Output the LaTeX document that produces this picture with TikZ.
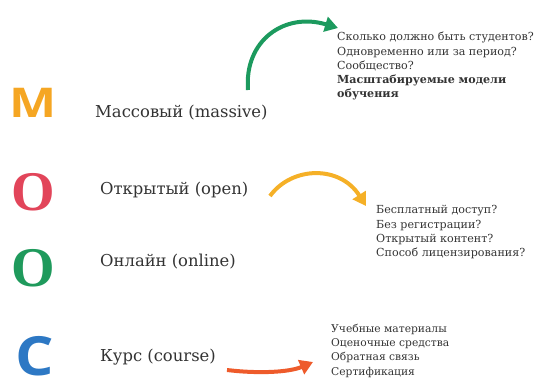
\documentclass[tikz,border=0pt]{standalone}
\usepackage{fontspec}
\setmainfont{DejaVu Serif}
\newfontfamily\lettersans{Open Sans}
\newfontfamily\letterserif{Liberation Serif}
\usetikzlibrary{arrows.meta}
\definecolor{mOrange}{HTML}{F5A623}
\definecolor{oRed}{HTML}{E2455A}
\definecolor{oGreen}{HTML}{1F9A5C}
\definecolor{cBlue}{HTML}{2D78C4}
\definecolor{arGreen}{HTML}{1C9A5E}
\definecolor{arYellow}{HTML}{F5B027}
\definecolor{arRed}{HTML}{EE5B2B}
\definecolor{txt}{HTML}{333333}
\begin{document}
\begin{tikzpicture}[x=1pt,y=-1pt,
  bigletter/.style={inner sep=0pt},
  term/.style={inner sep=0pt, anchor=west, text=txt, font=\fontsize{16.4}{19}\selectfont},
  notes/.style={inner sep=0pt, anchor=north west, align=left, text=txt,
    font=\fontsize{11.1}{14.2}\selectfont},
  bent/.style={line width=4pt, -{Triangle[length=13pt,width=15pt]}}]
\useasboundingbox (0,0) rectangle (539,383);
% the four initials
\node[bigletter, text=mOrange, font=\lettersans\fontsize{41}{41}\selectfont\bfseries] (M) at (33,103) {\scalebox{1.22}[1]{M}};
\node[bigletter, text=oRed, font=\letterserif\fontsize{56}{56}\selectfont\bfseries] (O1) at (33,192) {O};
\node[bigletter, text=oGreen, font=\letterserif\fontsize{56}{56}\selectfont\bfseries] (O2) at (33,268) {O};
\node[bigletter, text=cBlue, font=\lettersans\fontsize{54}{54}\selectfont\bfseries] (C) at (35,356) {\scalebox{1.12}[1]{C}};
% the words
\node[term] (mass) at (95,113) {Массовый (massive)};
\node[term] (open) at (100,190) {Открытый (open)};
\node[term] (online) at (100,262) {Онлайн (online)};
\node[term] (course) at (100,357) {Курс (course)};
% notes
\node[notes] (n1) at (337,32) {Сколько должно быть студентов?\\
Одновременно или за период?\\
Сообщество?\\
\textbf{Масштабируемые модели}\\
\textbf{обучения}};
\node[notes] (n2) at (376,205.5) {Бесплатный доступ?\\
Без регистрации?\\
Открытый контент?\\
Способ лицензирования?};
\node[notes, font=\fontsize{10.7}{14.2}\selectfont] (n3) at (331,324) {Учебные материалы\\
Оценочные средства\\
Обратная связь\\
Сертификация};
% arrows
\coordinate (g0) at (248,90);
\coordinate (g1) at (338,28);
\draw[bent, arGreen] (g0) .. controls (244,40) and (285,12) .. (g1);
\coordinate (y0) at (270,196);
\coordinate (y1) at (366,206);
\draw[bent, arYellow] (y0) .. controls (292,166) and (340,165) .. (y1);
\coordinate (r0) at (227,370);
\coordinate (r1) at (313,362);
\draw[bent, arRed] (r0) .. controls (260,374) and (290,372) .. (r1);
\end{tikzpicture}
\end{document}
